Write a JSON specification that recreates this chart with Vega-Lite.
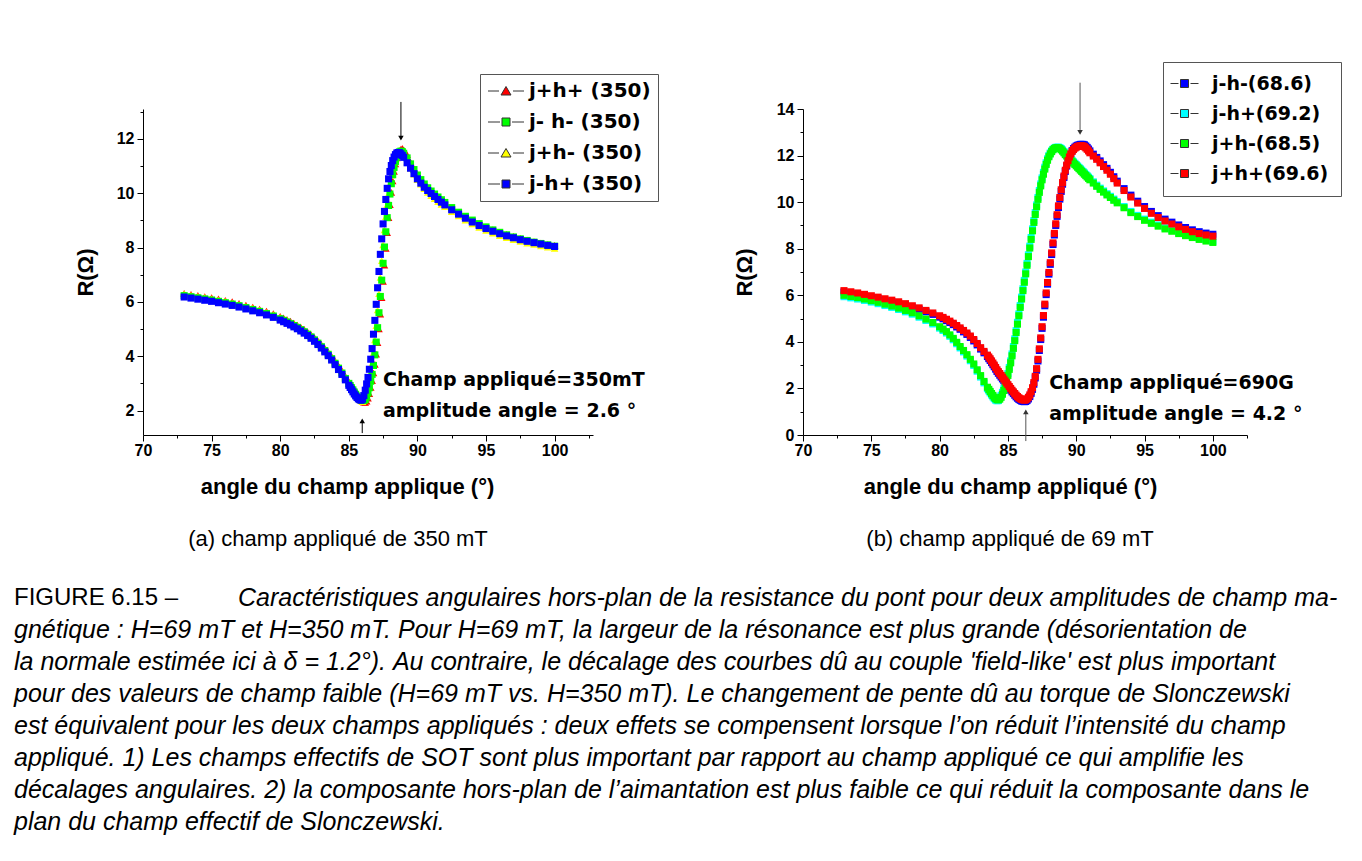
{
  "$schema": "https://vega.github.io/schema/vega-lite/v6.json",
  "background": "white",
  "padding": {"left": 14, "top": 61, "right": 10, "bottom": 10},
  "config": {
    "view": {"stroke": null},
    "axis": {"domainColor": "black", "tickColor": "black", "labelColor": "black", "labelFont": "Liberation Sans", "labelFontWeight": "bold", "labelFontSize": 16, "grid": false, "titleFont": "Liberation Sans", "titleFontSize": 22, "titleFontWeight": "bold", "titleColor": "black", "tickSize": 6, "labelPadding": 3, "domainWidth": 1, "tickWidth": 1}
  },
  "datasets": {
    "A": [
      {"x":73,"s1":6.32,"s2":6.23,"s3":6.3,"s4":6.18},
      {"x":73.5,"s1":6.28,"s2":6.19,"s3":6.25,"s4":6.14},
      {"x":74,"s1":6.24,"s2":6.15,"s3":6.21,"s4":6.1},
      {"x":74.5,"s1":6.2,"s2":6.11,"s3":6.17,"s4":6.06},
      {"x":75,"s1":6.16,"s2":6.07,"s3":6.12,"s4":6.02},
      {"x":75.5,"s1":6.11,"s2":6.02,"s3":6.07,"s4":5.97},
      {"x":76,"s1":6.06,"s2":5.97,"s3":6.02,"s4":5.92},
      {"x":76.5,"s1":6.01,"s2":5.92,"s3":5.97,"s4":5.87},
      {"x":77,"s1":5.95,"s2":5.86,"s3":5.91,"s4":5.81},
      {"x":77.5,"s1":5.88,"s2":5.79,"s3":5.84,"s4":5.74},
      {"x":78,"s1":5.81,"s2":5.72,"s3":5.77,"s4":5.67},
      {"x":78.5,"s1":5.74,"s2":5.65,"s3":5.7,"s4":5.6},
      {"x":79,"s1":5.66,"s2":5.57,"s3":5.62,"s4":5.52},
      {"x":79.5,"s1":5.57,"s2":5.48,"s3":5.53,"s4":5.43},
      {"x":80,"s1":5.47,"s2":5.38,"s3":5.43,"s4":5.33},
      {"x":80.25,"s1":5.41,"s2":5.32,"s3":5.37,"s4":5.27},
      {"x":80.5,"s1":5.35,"s2":5.26,"s3":5.31,"s4":5.21},
      {"x":80.75,"s1":5.29,"s2":5.2,"s3":5.25,"s4":5.15},
      {"x":81,"s1":5.22,"s2":5.13,"s3":5.18,"s4":5.08},
      {"x":81.25,"s1":5.15,"s2":5.06,"s3":5.11,"s4":5.01},
      {"x":81.5,"s1":5.07,"s2":4.98,"s3":5.03,"s4":4.93},
      {"x":81.75,"s1":4.99,"s2":4.9,"s3":4.95,"s4":4.85},
      {"x":82,"s1":4.9,"s2":4.81,"s3":4.86,"s4":4.76},
      {"x":82.25,"s1":4.8,"s2":4.71,"s3":4.76,"s4":4.66},
      {"x":82.5,"s1":4.69,"s2":4.6,"s3":4.65,"s4":4.55},
      {"x":82.75,"s1":4.57,"s2":4.48,"s3":4.53,"s4":4.43},
      {"x":83,"s1":4.44,"s2":4.35,"s3":4.4,"s4":4.3},
      {"x":83.25,"s1":4.3,"s2":4.21,"s3":4.26,"s4":4.16},
      {"x":83.5,"s1":4.16,"s2":4.07,"s3":4.12,"s4":4.02},
      {"x":83.75,"s1":4.0,"s2":3.91,"s3":3.96,"s4":3.86},
      {"x":84,"s1":3.83,"s2":3.74,"s3":3.79,"s4":3.69},
      {"x":84.25,"s1":3.65,"s2":3.56,"s3":3.61,"s4":3.51},
      {"x":84.5,"s1":3.47,"s2":3.38,"s3":3.43,"s4":3.33},
      {"x":84.75,"s1":3.27,"s2":3.18,"s3":3.23,"s4":3.13},
      {"x":85.0,"s1":3.08,"s2":3.0,"s3":3.02,"s4":2.93},
      {"x":85.1,"s1":3.0,"s2":2.92,"s3":2.93,"s4":2.85},
      {"x":85.2,"s1":2.92,"s2":2.84,"s3":2.85,"s4":2.77},
      {"x":85.3,"s1":2.84,"s2":2.76,"s3":2.77,"s4":2.69},
      {"x":85.4,"s1":2.76,"s2":2.68,"s3":2.69,"s4":2.61},
      {"x":85.5,"s1":2.68,"s2":2.6,"s3":2.61,"s4":2.54},
      {"x":85.6,"s1":2.6,"s2":2.53,"s3":2.54,"s4":2.48},
      {"x":85.7,"s1":2.52,"s2":2.47,"s3":2.47,"s4":2.43},
      {"x":85.8,"s1":2.45,"s2":2.42,"s3":2.41,"s4":2.4},
      {"x":85.9,"s1":2.39,"s2":2.39,"s3":2.36,"s4":2.38},
      {"x":86.0,"s1":2.34,"s2":2.37,"s3":2.33,"s4":2.42},
      {"x":86.1,"s1":2.31,"s2":2.37,"s3":2.38,"s4":2.55},
      {"x":86.2,"s1":2.3,"s2":2.41,"s3":2.5,"s4":2.75},
      {"x":86.3,"s1":2.34,"s2":2.5,"s3":2.68,"s4":2.98},
      {"x":86.4,"s1":2.45,"s2":2.65,"s3":2.9,"s4":3.22},
      {"x":86.5,"s1":2.62,"s2":2.84,"s3":3.13,"s4":3.52},
      {"x":86.6,"s1":2.85,"s2":3.08,"s3":3.4,"s4":3.89},
      {"x":86.7,"s1":3.1,"s2":3.33,"s3":3.73,"s4":4.28},
      {"x":86.8,"s1":3.38,"s2":3.66,"s3":4.12,"s4":4.81},
      {"x":86.9,"s1":3.7,"s2":4.05,"s3":4.6,"s4":5.32},
      {"x":87.0,"s1":4.07,"s2":4.52,"s3":5.12,"s4":5.91},
      {"x":87.1,"s1":4.5,"s2":5.05,"s3":5.7,"s4":6.52},
      {"x":87.2,"s1":5.0,"s2":5.6,"s3":6.3,"s4":7.12},
      {"x":87.3,"s1":5.55,"s2":6.2,"s3":6.9,"s4":7.75},
      {"x":87.4,"s1":6.15,"s2":6.8,"s3":7.52,"s4":8.32},
      {"x":87.5,"s1":6.75,"s2":7.42,"s3":8.1,"s4":8.87},
      {"x":87.6,"s1":7.35,"s2":8.02,"s3":8.65,"s4":9.33},
      {"x":87.7,"s1":7.97,"s2":8.58,"s3":9.14,"s4":9.77},
      {"x":87.8,"s1":8.55,"s2":9.1,"s3":9.58,"s4":10.18},
      {"x":87.9,"s1":9.1,"s2":9.55,"s3":9.98,"s4":10.53},
      {"x":88.0,"s1":9.58,"s2":9.97,"s3":10.35,"s4":10.8},
      {"x":88.1,"s1":10.03,"s2":10.35,"s3":10.66,"s4":11.02},
      {"x":88.2,"s1":10.45,"s2":10.68,"s3":10.93,"s4":11.2},
      {"x":88.3,"s1":10.8,"s2":10.95,"s3":11.14,"s4":11.33},
      {"x":88.4,"s1":11.08,"s2":11.17,"s3":11.3,"s4":11.42},
      {"x":88.5,"s1":11.3,"s2":11.33,"s3":11.42,"s4":11.48},
      {"x":88.6,"s1":11.46,"s2":11.45,"s3":11.5,"s4":11.5},
      {"x":88.7,"s1":11.57,"s2":11.52,"s3":11.53,"s4":11.49},
      {"x":88.8,"s1":11.63,"s2":11.55,"s3":11.52,"s4":11.45},
      {"x":88.9,"s1":11.65,"s2":11.53,"s3":11.46,"s4":11.39},
      {"x":89.0,"s1":11.6,"s2":11.47,"s3":11.38,"s4":11.32},
      {"x":89.25,"s1":11.42,"s2":11.3,"s3":11.15,"s4":11.12},
      {"x":89.5,"s1":11.15,"s2":11.08,"s3":10.92,"s4":10.92},
      {"x":89.75,"s1":10.9,"s2":10.87,"s3":10.7,"s4":10.72},
      {"x":90.0,"s1":10.68,"s2":10.67,"s3":10.5,"s4":10.53},
      {"x":90.25,"s1":10.48,"s2":10.5,"s3":10.33,"s4":10.37},
      {"x":90.5,"s1":10.32,"s2":10.34,"s3":10.17,"s4":10.22},
      {"x":90.75,"s1":10.18,"s2":10.2,"s3":10.03,"s4":10.1},
      {"x":91.0,"s1":10.06,"s2":10.08,"s3":9.91,"s4":9.99},
      {"x":91.25,"s1":9.95,"s2":9.97,"s3":9.8,"s4":9.88},
      {"x":91.5,"s1":9.84,"s2":9.86,"s3":9.69,"s4":9.77},
      {"x":91.75,"s1":9.74,"s2":9.76,"s3":9.59,"s4":9.67},
      {"x":92.0,"s1":9.64,"s2":9.66,"s3":9.5,"s4":9.57},
      {"x":92.5,"s1":9.45,"s2":9.47,"s3":9.32,"s4":9.39},
      {"x":93.0,"s1":9.29,"s2":9.3,"s3":9.16,"s4":9.23},
      {"x":93.5,"s1":9.14,"s2":9.15,"s3":9.01,"s4":9.08},
      {"x":94.0,"s1":9.0,"s2":9.01,"s3":8.87,"s4":8.94},
      {"x":94.5,"s1":8.87,"s2":8.88,"s3":8.74,"s4":8.81},
      {"x":95.0,"s1":8.76,"s2":8.76,"s3":8.63,"s4":8.7},
      {"x":95.5,"s1":8.66,"s2":8.65,"s3":8.53,"s4":8.6},
      {"x":96.0,"s1":8.57,"s2":8.56,"s3":8.44,"s4":8.51},
      {"x":96.5,"s1":8.49,"s2":8.47,"s3":8.36,"s4":8.43},
      {"x":97.0,"s1":8.41,"s2":8.39,"s3":8.29,"s4":8.36},
      {"x":97.5,"s1":8.34,"s2":8.32,"s3":8.22,"s4":8.29},
      {"x":98.0,"s1":8.28,"s2":8.26,"s3":8.16,"s4":8.23},
      {"x":98.5,"s1":8.22,"s2":8.2,"s3":8.11,"s4":8.18},
      {"x":99.0,"s1":8.17,"s2":8.15,"s3":8.06,"s4":8.13},
      {"x":99.5,"s1":8.12,"s2":8.1,"s3":8.01,"s4":8.08},
      {"x":100.0,"s1":8.08,"s2":8.05,"s3":7.97,"s4":8.04}
    ],
    "B": [
      {"x":73,"s1":6.14,"s2":5.94,"s3":6.0,"s4":6.2},
      {"x":73.5,"s1":6.09,"s2":5.89,"s3":5.95,"s4":6.15},
      {"x":74,"s1":6.04,"s2":5.84,"s3":5.9,"s4":6.1},
      {"x":74.5,"s1":5.98,"s2":5.78,"s3":5.84,"s4":6.04},
      {"x":75,"s1":5.92,"s2":5.71,"s3":5.77,"s4":5.98},
      {"x":75.5,"s1":5.86,"s2":5.64,"s3":5.7,"s4":5.92},
      {"x":76,"s1":5.79,"s2":5.56,"s3":5.62,"s4":5.85},
      {"x":76.5,"s1":5.73,"s2":5.48,"s3":5.54,"s4":5.79},
      {"x":77,"s1":5.66,"s2":5.39,"s3":5.45,"s4":5.72},
      {"x":77.5,"s1":5.58,"s2":5.29,"s3":5.35,"s4":5.64},
      {"x":78,"s1":5.49,"s2":5.19,"s3":5.25,"s4":5.55},
      {"x":78.5,"s1":5.4,"s2":5.06,"s3":5.12,"s4":5.46},
      {"x":79,"s1":5.29,"s2":4.92,"s3":4.98,"s4":5.35},
      {"x":79.5,"s1":5.18,"s2":4.77,"s3":4.83,"s4":5.24},
      {"x":80,"s1":5.06,"s2":4.59,"s3":4.65,"s4":5.12},
      {"x":80.25,"s1":4.99,"s2":4.49,"s3":4.55,"s4":5.05},
      {"x":80.5,"s1":4.91,"s2":4.38,"s3":4.44,"s4":4.97},
      {"x":80.75,"s1":4.83,"s2":4.24,"s3":4.3,"s4":4.89},
      {"x":81,"s1":4.74,"s2":4.09,"s3":4.15,"s4":4.8},
      {"x":81.25,"s1":4.64,"s2":3.92,"s3":3.98,"s4":4.7},
      {"x":81.5,"s1":4.54,"s2":3.74,"s3":3.8,"s4":4.6},
      {"x":81.75,"s1":4.43,"s2":3.57,"s3":3.63,"s4":4.49},
      {"x":82,"s1":4.32,"s2":3.39,"s3":3.45,"s4":4.38},
      {"x":82.25,"s1":4.19,"s2":3.19,"s3":3.25,"s4":4.25},
      {"x":82.5,"s1":4.04,"s2":2.99,"s3":3.05,"s4":4.1},
      {"x":82.75,"s1":3.87,"s2":2.74,"s3":2.8,"s4":3.93},
      {"x":83,"s1":3.69,"s2":2.49,"s3":2.55,"s4":3.75},
      {"x":83.25,"s1":3.53,"s2":2.24,"s3":2.3,"s4":3.59},
      {"x":83.5,"s1":3.37,"s2":1.99,"s3":2.05,"s4":3.43},
      {"x":83.6,"s1":3.28,"s2":1.9,"s3":1.96,"s4":3.35},
      {"x":83.7,"s1":3.2,"s2":1.81,"s3":1.87,"s4":3.27},
      {"x":83.8,"s1":3.11,"s2":1.72,"s3":1.78,"s4":3.18},
      {"x":83.9,"s1":3.02,"s2":1.64,"s3":1.7,"s4":3.09},
      {"x":84.0,"s1":2.93,"s2":1.56,"s3":1.62,"s4":3.0},
      {"x":84.1,"s1":2.83,"s2":1.5,"s3":1.56,"s4":2.9},
      {"x":84.2,"s1":2.73,"s2":1.47,"s3":1.52,"s4":2.8},
      {"x":84.3,"s1":2.65,"s2":1.48,"s3":1.51,"s4":2.72},
      {"x":84.4,"s1":2.57,"s2":1.6,"s3":1.54,"s4":2.64},
      {"x":84.5,"s1":2.49,"s2":1.7,"s3":1.62,"s4":2.56},
      {"x":84.6,"s1":2.41,"s2":1.83,"s3":1.75,"s4":2.48},
      {"x":84.7,"s1":2.33,"s2":1.99,"s3":1.91,"s4":2.4},
      {"x":84.8,"s1":2.25,"s2":2.18,"s3":2.1,"s4":2.32},
      {"x":84.9,"s1":2.17,"s2":2.4,"s3":2.32,"s4":2.24},
      {"x":85.0,"s1":2.09,"s2":2.64,"s3":2.56,"s4":2.16},
      {"x":85.1,"s1":2.01,"s2":2.9,"s3":2.82,"s4":2.08},
      {"x":85.2,"s1":1.93,"s2":3.18,"s3":3.1,"s4":2.0},
      {"x":85.3,"s1":1.85,"s2":3.48,"s3":3.4,"s4":1.92},
      {"x":85.4,"s1":1.78,"s2":3.8,"s3":3.72,"s4":1.85},
      {"x":85.5,"s1":1.71,"s2":4.13,"s3":4.05,"s4":1.78},
      {"x":85.6,"s1":1.64,"s2":4.48,"s3":4.4,"s4":1.71},
      {"x":85.7,"s1":1.58,"s2":4.84,"s3":4.76,"s4":1.65},
      {"x":85.8,"s1":1.53,"s2":5.2,"s3":5.12,"s4":1.6},
      {"x":85.9,"s1":1.49,"s2":5.56,"s3":5.48,"s4":1.56},
      {"x":86.0,"s1":1.46,"s2":5.92,"s3":5.84,"s4":1.53},
      {"x":86.1,"s1":1.44,"s2":6.28,"s3":6.2,"s4":1.51},
      {"x":86.2,"s1":1.43,"s2":6.64,"s3":6.56,"s4":1.5},
      {"x":86.3,"s1":1.44,"s2":7.0,"s3":6.92,"s4":1.51},
      {"x":86.4,"s1":1.48,"s2":7.37,"s3":7.29,"s4":1.55},
      {"x":86.5,"s1":1.55,"s2":7.74,"s3":7.66,"s4":1.62},
      {"x":86.6,"s1":1.65,"s2":8.11,"s3":8.03,"s4":1.72},
      {"x":86.7,"s1":1.79,"s2":8.48,"s3":8.4,"s4":1.86},
      {"x":86.8,"s1":1.96,"s2":8.85,"s3":8.77,"s4":2.03},
      {"x":86.9,"s1":2.18,"s2":9.21,"s3":9.13,"s4":2.25},
      {"x":87.0,"s1":2.45,"s2":9.55,"s3":9.47,"s4":2.52},
      {"x":87.1,"s1":2.78,"s2":9.88,"s3":9.8,"s4":2.85},
      {"x":87.2,"s1":3.18,"s2":10.2,"s3":10.12,"s4":3.25},
      {"x":87.3,"s1":3.63,"s2":10.5,"s3":10.42,"s4":3.7},
      {"x":87.4,"s1":4.1,"s2":10.78,"s3":10.7,"s4":4.17},
      {"x":87.5,"s1":4.58,"s2":11.04,"s3":10.96,"s4":4.65},
      {"x":87.6,"s1":5.06,"s2":11.28,"s3":11.2,"s4":5.13},
      {"x":87.7,"s1":5.55,"s2":11.5,"s3":11.42,"s4":5.62},
      {"x":87.8,"s1":6.03,"s2":11.69,"s3":11.62,"s4":6.1},
      {"x":87.9,"s1":6.48,"s2":11.86,"s3":11.8,"s4":6.55},
      {"x":88.0,"s1":6.91,"s2":12.0,"s3":11.95,"s4":6.98},
      {"x":88.1,"s1":7.33,"s2":12.11,"s3":12.07,"s4":7.4},
      {"x":88.2,"s1":7.75,"s2":12.2,"s3":12.17,"s4":7.82},
      {"x":88.3,"s1":8.18,"s2":12.27,"s3":12.25,"s4":8.25},
      {"x":88.4,"s1":8.59,"s2":12.32,"s3":12.3,"s4":8.66},
      {"x":88.5,"s1":9.0,"s2":12.35,"s3":12.33,"s4":9.07},
      {"x":88.6,"s1":9.39,"s2":12.36,"s3":12.34,"s4":9.46},
      {"x":88.7,"s1":9.77,"s2":12.36,"s3":12.33,"s4":9.84},
      {"x":88.8,"s1":10.13,"s2":12.34,"s3":12.3,"s4":10.2},
      {"x":88.9,"s1":10.46,"s2":12.3,"s3":12.25,"s4":10.53},
      {"x":89.0,"s1":10.77,"s2":12.24,"s3":12.19,"s4":10.84},
      {"x":89.1,"s1":11.06,"s2":12.17,"s3":12.12,"s4":11.12},
      {"x":89.2,"s1":11.32,"s2":12.09,"s3":12.04,"s4":11.37},
      {"x":89.3,"s1":11.55,"s2":12.03,"s3":11.98,"s4":11.59},
      {"x":89.4,"s1":11.76,"s2":11.97,"s3":11.92,"s4":11.78},
      {"x":89.5,"s1":11.94,"s2":11.91,"s3":11.86,"s4":11.94},
      {"x":89.6,"s1":12.09,"s2":11.85,"s3":11.8,"s4":12.07},
      {"x":89.7,"s1":12.21,"s2":11.79,"s3":11.74,"s4":12.18},
      {"x":89.8,"s1":12.3,"s2":11.73,"s3":11.68,"s4":12.26},
      {"x":89.9,"s1":12.36,"s2":11.67,"s3":11.62,"s4":12.32},
      {"x":90.0,"s1":12.41,"s2":11.61,"s3":11.56,"s4":12.36},
      {"x":90.1,"s1":12.44,"s2":11.55,"s3":11.5,"s4":12.39},
      {"x":90.2,"s1":12.46,"s2":11.49,"s3":11.44,"s4":12.41},
      {"x":90.3,"s1":12.48,"s2":11.43,"s3":11.38,"s4":12.42},
      {"x":90.4,"s1":12.48,"s2":11.37,"s3":11.32,"s4":12.42},
      {"x":90.5,"s1":12.48,"s2":11.31,"s3":11.26,"s4":12.41},
      {"x":90.6,"s1":12.46,"s2":11.25,"s3":11.2,"s4":12.38},
      {"x":90.7,"s1":12.41,"s2":11.19,"s3":11.14,"s4":12.33},
      {"x":90.8,"s1":12.35,"s2":11.13,"s3":11.08,"s4":12.27},
      {"x":90.9,"s1":12.28,"s2":11.07,"s3":11.02,"s4":12.2},
      {"x":91.0,"s1":12.2,"s2":11.01,"s3":10.96,"s4":12.12},
      {"x":91.25,"s1":12.06,"s2":10.87,"s3":10.82,"s4":11.98},
      {"x":91.5,"s1":11.92,"s2":10.73,"s3":10.68,"s4":11.84},
      {"x":91.75,"s1":11.77,"s2":10.6,"s3":10.55,"s4":11.69},
      {"x":92.0,"s1":11.61,"s2":10.48,"s3":10.43,"s4":11.53},
      {"x":92.25,"s1":11.45,"s2":10.36,"s3":10.31,"s4":11.37},
      {"x":92.5,"s1":11.28,"s2":10.25,"s3":10.2,"s4":11.2},
      {"x":92.75,"s1":11.09,"s2":10.13,"s3":10.08,"s4":11.01},
      {"x":93.0,"s1":10.9,"s2":10.02,"s3":9.97,"s4":10.82},
      {"x":93.5,"s1":10.58,"s2":9.81,"s3":9.76,"s4":10.5},
      {"x":94.0,"s1":10.3,"s2":9.6,"s3":9.55,"s4":10.22},
      {"x":94.5,"s1":10.04,"s2":9.43,"s3":9.38,"s4":9.96},
      {"x":95.0,"s1":9.81,"s2":9.27,"s3":9.22,"s4":9.73},
      {"x":95.5,"s1":9.6,"s2":9.14,"s3":9.09,"s4":9.52},
      {"x":96.0,"s1":9.42,"s2":9.02,"s3":8.97,"s4":9.34},
      {"x":96.5,"s1":9.27,"s2":8.9,"s3":8.85,"s4":9.19},
      {"x":97.0,"s1":9.14,"s2":8.8,"s3":8.75,"s4":9.06},
      {"x":97.5,"s1":9.02,"s2":8.7,"s3":8.65,"s4":8.94},
      {"x":98.0,"s1":8.91,"s2":8.61,"s3":8.56,"s4":8.83},
      {"x":98.5,"s1":8.81,"s2":8.53,"s3":8.48,"s4":8.73},
      {"x":99.0,"s1":8.73,"s2":8.45,"s3":8.4,"s4":8.65},
      {"x":99.5,"s1":8.67,"s2":8.38,"s3":8.33,"s4":8.59},
      {"x":100.0,"s1":8.62,"s2":8.32,"s3":8.27,"s4":8.54}
    ],
    "namesA": [
      {"k":"s1","name":"j+h+ (350)"},
      {"k":"s2","name":"j- h- (350)"},
      {"k":"s3","name":"j+h- (350)"},
      {"k":"s4","name":"j-h+ (350)"}
    ],
    "namesB": [
      {"k":"s1","name":"j-h-(68.6)"},
      {"k":"s2","name":"j-h+(69.2)"},
      {"k":"s3","name":"j+h-(68.5)"},
      {"k":"s4","name":"j+h+(69.6)"}
    ],
    "arrA": [
      {"x":88.8,"y1":13.36,"y2":12.1,"hy":12.03,"d":"down"},
      {"x":85.98,"y1":1.17,"y2":1.55,"hy":1.62,"d":"up"}
    ],
    "txtA": [
      {"x":87.49,"y":3.12,"t":"Champ appliqué=350mT"},
      {"x":87.49,"y":1.98,"t":"amplitude angle = 2.6 °"}
    ],
    "arrB": [
      {"x":90.28,"y1":15.13,"y2":13.1,"hy":13.0,"d":"down"},
      {"x":86.31,"y1":-0.26,"y2":0.9,"hy":0.99,"d":"up"}
    ],
    "txtB": [
      {"x":88.02,"y":2.25,"t":"Champ appliqué=690G"},
      {"x":88.02,"y":0.92,"t":"amplitude angle = 4.2 °"}
    ],
    "cap": [
      {"l":1,"p":"FIGURE 6.15 –","t":"Caractéristiques angulaires hors-plan de la resistance du pont pour deux amplitudes de champ ma-"},
      {"l":2,"p":"","t":"gnétique : H=69 mT et H=350 mT. Pour H=69 mT, la largeur de la résonance est plus grande (désorientation de"},
      {"l":3,"p":"","t":"la normale estimée ici à δ = 1.2°). Au contraire, le décalage des courbes dû au couple 'field-like' est plus important"},
      {"l":4,"p":"","t":"pour des valeurs de champ faible (H=69 mT vs. H=350 mT). Le changement de pente dû au torque de Slonczewski"},
      {"l":5,"p":"","t":"est équivalent pour les deux champs appliqués : deux effets se compensent lorsque l’on réduit l’intensité du champ"},
      {"l":6,"p":"","t":"appliqué. 1) Les champs effectifs de SOT sont plus important par rapport au champ appliqué ce qui amplifie les"},
      {"l":7,"p":"","t":"décalages angulaires. 2) la composante hors-plan de l’aimantation est plus faible ce qui réduit la composante dans le"},
      {"l":8,"p":"","t":"plan du champ effectif de Slonczewski."}
    ]
  },
  "spacing": 32,
  "resolve": {"scale": {"x": "independent", "y": "independent"}},
  "vconcat": [
    {
      "spacing": 210,
      "bounds": "flush",
      "resolve": {"scale": {"x": "independent", "y": "independent", "color": "independent", "shape": "independent"}, "legend": {"color": "independent", "shape": "independent"}},
      "hconcat": [
        {
          "width": 450,
          "height": 326,
          "title": {"text": "(a) champ appliqué de 350 mT", "orient": "bottom", "frame": "group", "anchor": "middle", "dx": -30, "offset": 32, "font": "Liberation Sans", "fontSize": 22, "fontWeight": "normal", "color": "black"},
          "resolve": {"axis": {"x": "independent", "y": "independent"}},
          "layer": [
            {
              "data": {"name": "A"},
              "transform": [
                {"fold": ["s1", "s2", "s3", "s4"], "as": ["k", "v"]},
                {"lookup": "k", "from": {"data": {"name": "namesA"}, "key": "k", "fields": ["name"]}},
                {"filter": "indexof(datum.name, 'j+') == 0"}
              ],
              "mark": {"type": "point", "shape": "triangle-up", "filled": true, "opacity": 1, "size": 58, "strokeWidth": 0},
              "encoding": {
                "x": {"field": "x", "type": "quantitative", "scale": {"domain": [70, 102.8], "nice": false, "zero": false},
                  "axis": {"values": [70, 75, 80, 85, 90, 95, 100], "title": "angle du champ applique (°)", "titlePadding": 18, "titleX": 204, "labelFlush": false, "labelPadding": 1}},
                "y": {"field": "v", "type": "quantitative", "scale": {"domain": [1.1, 13.1], "nice": false, "zero": false},
                  "axis": {"values": [2, 4, 6, 8, 10, 12], "title": "R(Ω)", "titlePadding": 19, "labelFlush": false}},
                "color": {"field": "name", "type": "nominal",
                  "scale": {"domain": ["j+h+ (350)", "j- h- (350)", "j+h- (350)", "j-h+ (350)"], "range": ["#ff0000", "#00ff00", "#ffff00", "#0000ff"]},
                  "legend": {"orient": "none", "legendX": 337, "legendY": -35, "title": null, "labelFont": "DejaVu Sans", "labelFontWeight": "bold", "labelFontSize": 20, "labelColor": "black", "strokeColor": "#555555", "fillColor": "white", "padding": 7, "rowPadding": 11, "symbolSize": 100, "symbolOffset": 9, "labelOffset": 13, "symbolStrokeWidth": 1, "symbolStrokeColor": "#333333"}},
                "order": {"field": "k", "type": "ordinal"}
              }
            },
            {
              "data": {"name": "A"},
              "transform": [
                {"fold": ["s1", "s2", "s3", "s4"], "as": ["k", "v"]},
                {"lookup": "k", "from": {"data": {"name": "namesA"}, "key": "k", "fields": ["name"]}},
                {"filter": "indexof(datum.name, 'j+') != 0"}
              ],
              "mark": {"type": "point", "shape": "square", "filled": true, "opacity": 1, "size": 50, "strokeWidth": 0},
              "encoding": {
                "x": {"field": "x", "type": "quantitative", "scale": {"domain": [70, 102.8], "nice": false, "zero": false}, "axis": null},
                "y": {"field": "v", "type": "quantitative", "scale": {"domain": [1.1, 13.1], "nice": false, "zero": false}, "axis": null},
                "color": {"field": "name", "type": "nominal",
                  "scale": {"domain": ["j+h+ (350)", "j- h- (350)", "j+h- (350)", "j-h+ (350)"], "range": ["#ff0000", "#00ff00", "#ffff00", "#0000ff"]},
                  "legend": {"orient": "none", "legendX": 337, "legendY": -35, "title": null, "labelFont": "DejaVu Sans", "labelFontWeight": "bold", "labelFontSize": 20, "labelColor": "black", "strokeColor": "#555555", "fillColor": "white", "padding": 7, "rowPadding": 11, "symbolSize": 100, "symbolOffset": 9, "labelOffset": 13, "symbolStrokeWidth": 1, "symbolStrokeColor": "#333333"}},
                "order": {"field": "k", "type": "ordinal"}
              }
            },
            {
              "data": {"name": "namesA"},
              "mark": {"type": "point", "filled": true, "opacity": 1, "size": 0, "strokeWidth": 0},
              "encoding": {
                "color": {"field": "name", "type": "nominal",
                  "scale": {"domain": ["j+h+ (350)", "j- h- (350)", "j+h- (350)", "j-h+ (350)"], "range": ["#ff0000", "#00ff00", "#ffff00", "#0000ff"]},
                  "legend": {"orient": "none", "legendX": 337, "legendY": -35, "title": null, "labelFont": "DejaVu Sans", "labelFontWeight": "bold", "labelFontSize": 20, "labelColor": "black", "strokeColor": "#555555", "fillColor": "white", "padding": 7, "rowPadding": 11, "symbolSize": 100, "symbolOffset": 9, "labelOffset": 13, "symbolStrokeWidth": 1, "symbolStrokeColor": "#333333"}},
                "shape": {"field": "name", "type": "nominal",
                  "scale": {"domain": ["j+h+ (350)", "j- h- (350)", "j+h- (350)", "j-h+ (350)"], "range": ["M-3.6,0H-1.4M1.4,0H3.6M0,-0.9L1,0.8H-1Z", "M-3.6,0H-1.2M1.2,0H3.6M-0.8,-0.8H0.8V0.8H-0.8Z", "M-3.6,0H-1.4M1.4,0H3.6M0,-0.9L1,0.8H-1Z", "M-3.6,0H-1.2M1.2,0H3.6M-0.8,-0.8H0.8V0.8H-0.8Z"]},
                  "legend": {"orient": "none", "legendX": 337, "legendY": -35, "title": null, "labelFont": "DejaVu Sans", "labelFontWeight": "bold", "labelFontSize": 20, "labelColor": "black", "strokeColor": "#555555", "fillColor": "white", "padding": 7, "rowPadding": 11, "symbolSize": 100, "symbolOffset": 9, "labelOffset": 13, "symbolStrokeWidth": 1, "symbolStrokeColor": "#333333"}}
              }
            },
            {
              "data": {"name": "arrA"},
              "mark": {"type": "rule", "color": "black", "strokeWidth": 1},
              "encoding": {
                "x": {"field": "x", "type": "quantitative", "scale": {"domain": [70, 102.8], "nice": false, "zero": false},
                  "axis": {"orient": "bottom", "values": [72.5, 77.5, 82.5, 87.5, 92.5, 97.5, 102.5], "labels": false, "domain": false, "tickSize": 3, "title": null}},
                "y": {"field": "y1", "type": "quantitative", "scale": {"domain": [1.1, 13.1], "nice": false, "zero": false},
                  "axis": {"orient": "left", "values": [3, 5, 7, 9, 11, 13], "labels": false, "domain": false, "tickSize": 3, "title": null}},
                "y2": {"field": "y2"}
              }
            },
            {
              "data": {"name": "arrA"},
              "transform": [{"filter": "datum.d == 'down'"}],
              "mark": {"type": "point", "shape": "triangle-down", "filled": true, "color": "black", "size": 30, "opacity": 1},
              "encoding": {
                "x": {"field": "x", "type": "quantitative", "scale": {"domain": [70, 102.8], "nice": false, "zero": false}, "axis": null},
                "y": {"field": "hy", "type": "quantitative", "scale": {"domain": [1.1, 13.1], "nice": false, "zero": false}, "axis": null}
              }
            },
            {
              "data": {"name": "arrA"},
              "transform": [{"filter": "datum.d == 'up'"}],
              "mark": {"type": "point", "shape": "triangle-up", "filled": true, "color": "black", "size": 30, "opacity": 1},
              "encoding": {
                "x": {"field": "x", "type": "quantitative", "scale": {"domain": [70, 102.8], "nice": false, "zero": false}, "axis": null},
                "y": {"field": "hy", "type": "quantitative", "scale": {"domain": [1.1, 13.1], "nice": false, "zero": false}, "axis": null}
              }
            },
            {
              "data": {"name": "txtA"},
              "mark": {"type": "text", "align": "left", "baseline": "middle", "font": "DejaVu Sans", "fontWeight": "bold", "fontSize": 19, "color": "black"},
              "encoding": {
                "x": {"field": "x", "type": "quantitative", "scale": {"domain": [70, 102.8], "nice": false, "zero": false}, "axis": null},
                "y": {"field": "y", "type": "quantitative", "scale": {"domain": [1.1, 13.1], "nice": false, "zero": false}, "axis": null},
                "text": {"field": "t"}
              }
            }
          ]
        },
        {
          "width": 444,
          "height": 326,
          "title": {"text": "(b) champ appliqué de 69 mT", "orient": "bottom", "frame": "group", "anchor": "middle", "dx": -15, "offset": 32, "font": "Liberation Sans", "fontSize": 22, "fontWeight": "normal", "color": "black"},
          "resolve": {"axis": {"x": "independent", "y": "independent"}},
          "layer": [
            {
              "data": {"name": "B"},
              "transform": [
                {"fold": ["s1", "s2", "s3", "s4"], "as": ["k", "v"]},
                {"lookup": "k", "from": {"data": {"name": "namesB"}, "key": "k", "fields": ["name"]}}
              ],
              "mark": {"type": "point", "shape": "square", "filled": true, "opacity": 1, "size": 50, "strokeWidth": 0},
              "encoding": {
                "x": {"field": "x", "type": "quantitative", "scale": {"domain": [70, 102.5], "nice": false, "zero": false},
                  "axis": {"values": [70, 75, 80, 85, 90, 95, 100], "title": "angle du champ appliqué (°)", "titlePadding": 18, "titleX": 207, "labelFlush": false, "labelPadding": 1}},
                "y": {"field": "v", "type": "quantitative", "scale": {"domain": [0, 14], "nice": false, "zero": false},
                  "axis": {"values": [0, 2, 4, 6, 8, 10, 12, 14], "title": "R(Ω)", "titlePadding": 20, "labelFlush": false}},
                "color": {"field": "name", "type": "nominal",
                  "scale": {"domain": ["j-h-(68.6)", "j-h+(69.2)", "j+h-(68.5)", "j+h+(69.6)"], "range": ["#0000ff", "#00ffff", "#00ff00", "#ff0000"]},
                  "legend": {"orient": "none", "legendX": 360, "legendY": -47, "title": null, "labelFont": "DejaVu Sans", "labelFontWeight": "bold", "labelFontSize": 19, "labelColor": "black", "strokeColor": "#555555", "fillColor": "white", "padding": 12, "rowPadding": 10, "symbolSize": 100, "symbolOffset": 0, "labelOffset": 18, "symbolStrokeWidth": 1, "symbolStrokeColor": "#333333", "symbolType": "M-2.8,0H-1.2M1.2,0H2.8M-0.8,-0.8H0.8V0.8H-0.8Z"}},
                "order": {"field": "k", "type": "ordinal"}
              }
            },
            {
              "data": {"name": "arrB"},
              "mark": {"type": "rule", "color": "#555555", "strokeWidth": 1},
              "encoding": {
                "x": {"field": "x", "type": "quantitative", "scale": {"domain": [70, 102.5], "nice": false, "zero": false},
                  "axis": {"orient": "bottom", "values": [72.5, 77.5, 82.5, 87.5, 92.5, 97.5, 102.5], "labels": false, "domain": false, "tickSize": 3, "title": null}},
                "y": {"field": "y1", "type": "quantitative", "scale": {"domain": [0, 14], "nice": false, "zero": false},
                  "axis": {"orient": "left", "values": [1, 3, 5, 7, 9, 11, 13], "labels": false, "domain": false, "tickSize": 3, "title": null}},
                "y2": {"field": "y2"}
              }
            },
            {
              "data": {"name": "arrB"},
              "transform": [{"filter": "datum.d == 'down'"}],
              "mark": {"type": "point", "shape": "triangle-down", "filled": true, "color": "#333333", "size": 30, "opacity": 1},
              "encoding": {
                "x": {"field": "x", "type": "quantitative", "scale": {"domain": [70, 102.5], "nice": false, "zero": false}, "axis": null},
                "y": {"field": "hy", "type": "quantitative", "scale": {"domain": [0, 14], "nice": false, "zero": false}, "axis": null}
              }
            },
            {
              "data": {"name": "arrB"},
              "transform": [{"filter": "datum.d == 'up'"}],
              "mark": {"type": "point", "shape": "triangle-up", "filled": true, "color": "#333333", "size": 30, "opacity": 1},
              "encoding": {
                "x": {"field": "x", "type": "quantitative", "scale": {"domain": [70, 102.5], "nice": false, "zero": false}, "axis": null},
                "y": {"field": "hy", "type": "quantitative", "scale": {"domain": [0, 14], "nice": false, "zero": false}, "axis": null}
              }
            },
            {
              "data": {"name": "txtB"},
              "mark": {"type": "text", "align": "left", "baseline": "middle", "font": "DejaVu Sans", "fontWeight": "bold", "fontSize": 19, "color": "black"},
              "encoding": {
                "x": {"field": "x", "type": "quantitative", "scale": {"domain": [70, 102.5], "nice": false, "zero": false}, "axis": null},
                "y": {"field": "y", "type": "quantitative", "scale": {"domain": [0, 14], "nice": false, "zero": false}, "axis": null},
                "text": {"field": "t"}
              }
            }
          ]
        }
      ]
    },
    {
      "width": 1200,
      "height": {"step": 32},
      "data": {"name": "cap"},
      "layer": [
        {
          "transform": [{"filter": "datum.l == 1"}],
          "mark": {"type": "text", "align": "left", "baseline": "middle", "font": "Liberation Sans", "fontSize": 24, "color": "black", "dx": -129},
          "encoding": {
            "x": {"datum": 0, "type": "quantitative", "scale": {"domain": [0, 1]}, "axis": null},
            "y": {"field": "l", "type": "ordinal", "axis": null},
            "text": {"field": "p"}
          }
        },
        {
          "transform": [{"filter": "datum.l == 1"}],
          "mark": {"type": "text", "align": "left", "baseline": "middle", "font": "Liberation Sans", "fontStyle": "italic", "fontSize": 25, "color": "black", "dx": 95},
          "encoding": {
            "x": {"datum": 0, "type": "quantitative", "scale": {"domain": [0, 1]}, "axis": null},
            "y": {"field": "l", "type": "ordinal", "axis": null},
            "text": {"field": "t"}
          }
        },
        {
          "transform": [{"filter": "datum.l > 1"}],
          "mark": {"type": "text", "align": "left", "baseline": "middle", "font": "Liberation Sans", "fontStyle": "italic", "fontSize": 25, "color": "black", "dx": -129},
          "encoding": {
            "x": {"datum": 0, "type": "quantitative", "scale": {"domain": [0, 1]}, "axis": null},
            "y": {"field": "l", "type": "ordinal", "axis": null},
            "text": {"field": "t"}
          }
        }
      ]
    }
  ]
}
